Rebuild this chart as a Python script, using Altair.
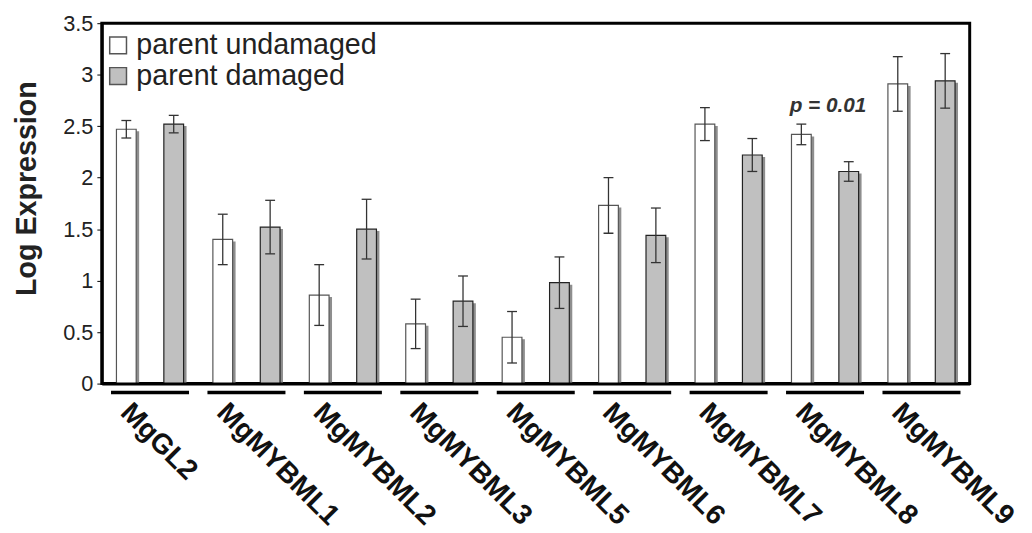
import altair as alt
import pandas as pd

genes = ["MgGL2", "MgMYBML1", "MgMYBML2", "MgMYBML3", "MgMYBML5",
         "MgMYBML6", "MgMYBML7", "MgMYBML8", "MgMYBML9"]
undamaged = [2.47, 1.40, 0.86, 0.58, 0.45, 1.73, 2.52, 2.42, 2.91]
undamaged_err = [0.085, 0.245, 0.295, 0.24, 0.25, 0.27, 0.16, 0.10, 0.265]
damaged = [2.52, 1.52, 1.50, 0.80, 0.98, 1.44, 2.22, 2.06, 2.94]
damaged_err = [0.085, 0.26, 0.29, 0.245, 0.25, 0.265, 0.16, 0.095, 0.265]
conditions = ["parent undamaged", "parent damaged"]
y_ticks = [0, 0.5, 1, 1.5, 2, 2.5, 3, 3.5]
annot_gene = ["MgMYBML8"]
annot_y = [2.64]
annot_text = ["p = 0.01"]

rows = []
for g, v, e in zip(genes, undamaged, undamaged_err):
    rows.append({"gene": g, "cond": conditions[0], "value": v, "lo": v - e, "hi": v + e})
for g, v, e in zip(genes, damaged, damaged_err):
    rows.append({"gene": g, "cond": conditions[1], "value": v, "lo": v - e, "hi": v + e})
df = pd.DataFrame(rows)
annot = pd.DataFrame({"gene": annot_gene, "y": annot_y, "text": annot_text})

FONT = "Liberation Sans"

x_enc = alt.X("gene:N", sort=genes,
              scale=alt.Scale(paddingInner=0, paddingOuter=0),
              axis=alt.Axis(title=None, labelAngle=45, labelAlign="left", labelBaseline="top",
                            labelFontSize=28.5, labelFontWeight="bold", labelColor="#111",
                            labelOffset=-15, labelPadding=14, ticks=False,
                            domain=True, domainColor="black", domainWidth=3, zindex=1,
                            labelFont=FONT, labelLimit=0))
y_scale = alt.Scale(domain=[0, 3.5], nice=False)
y_enc = alt.Y("value:Q", scale=y_scale,
              axis=alt.Axis(title="Log Expression", values=y_ticks, grid=False,
                            labelExpr="datum.value + ''", labelFontSize=22, labelColor="#222",
                            labelFont=FONT, tickSize=5, tickColor="black", tickWidth=1,
                            labelPadding=4, domain=True, domainColor="black", domainWidth=3,
                            zindex=1, titleFontSize=29, titleFontWeight="bold",
                            titleColor="#222", titleFont=FONT, titlePadding=22, titleY=167))

base = alt.Chart(df)
offsets = {conditions[0]: -24, conditions[1]: 24}
strokes = {conditions[0]: "#555555", conditions[1]: "#222222"}

layers = []
for c in conditions:
    sub = base.transform_filter(alt.datum.cond == c)
    off = offsets[c]
    layers.append(sub.mark_bar(width=20, xOffset=off + 3, yOffset=2, y2Offset=0,
                               color="#8e8e8e", opacity=1).encode(
        x=x_enc, y=alt.Y("value:Q", scale=y_scale), y2=alt.datum(0)))
for c in conditions:
    sub = base.transform_filter(alt.datum.cond == c)
    off = offsets[c]
    layers.append(sub.mark_bar(width=20, xOffset=off, stroke=strokes[c], strokeWidth=1.2,
                               opacity=1).encode(
        x=x_enc, y=y_enc,
        fill=alt.Fill("cond:N", scale=alt.Scale(domain=conditions, range=["white", "#c0c0c0"]),
                      legend=alt.Legend(title=None, orient="none", legendX=2, legendY=8,
                                        symbolType="square", symbolSize=289,
                                        symbolStrokeColor="#555555", symbolStrokeWidth=1.5,
                                        labelFontSize=29, labelColor="#222", labelFont=FONT,
                                        labelOffset=4, rowPadding=1, padding=0, labelLimit=0))))
    layers.append(sub.mark_rule(xOffset=off, color="#333", strokeWidth=1.3, opacity=1).encode(
        x=x_enc, y=alt.Y("lo:Q", scale=y_scale), y2="hi:Q"))
    layers.append(sub.mark_tick(xOffset=off, color="#333", thickness=1.3, size=10, opacity=1,
                                orient="horizontal").encode(x=x_enc, y=alt.Y("lo:Q", scale=y_scale)))
    layers.append(sub.mark_tick(xOffset=off, color="#333", thickness=1.3, size=10, opacity=1,
                                orient="horizontal").encode(x=x_enc, y=alt.Y("hi:Q", scale=y_scale)))

underline = alt.Chart(pd.DataFrame({"gene": genes})).mark_tick(
    orient="horizontal", size=79, thickness=3.5, color="black", opacity=1).encode(
    x=x_enc, y=alt.value(374))

ptext = alt.Chart(annot).mark_text(font=FONT, fontSize=21, fontWeight="bold", fontStyle="italic",
                                   color="#333", baseline="alphabetic", align="center",
                                   xOffset=3).encode(
    x=x_enc, y=alt.Y("y:Q", scale=y_scale), text="text:N")

chart = alt.layer(*layers, underline, ptext).properties(
    width=879, height=365, padding={"left": 4, "top": 1, "right": 5, "bottom": 5}
).configure(font=FONT).configure_view(stroke="black", strokeWidth=3)

chart.save("out.html", embed_options={"renderer": "svg", "actions": False})
